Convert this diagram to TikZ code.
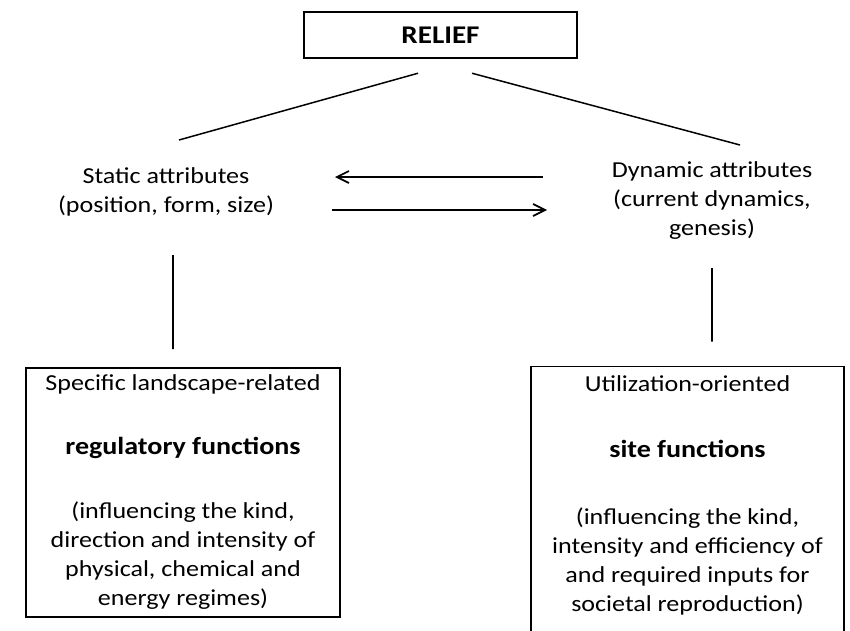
\documentclass[tikz,border=0pt]{standalone}
\usepackage{fontspec}
\setmainfont{Carlito}[FakeStretch=1.14]
\usepackage{tikz}
\usetikzlibrary{arrows.meta,positioning,calc}
\tikzset{
  topbox/.style={rectangle,draw=black,line width=1.4pt,minimum width=5.46cm,
                 minimum height=0.92cm,font=\fontsize{14.5}{17}\selectfont\bfseries},
  attr/.style={align=center,inner sep=2pt,font=\fontsize{13}{16.5}\selectfont},
  fbox/.style={rectangle,draw=black,line width=1.1pt,align=center,inner sep=3pt,
               font=\fontsize{13}{16.5}\selectfont,minimum height=4.98cm},
  ln/.style={draw=black,line width=0.85pt},
  arr/.style={draw=black,line width=1pt,-{Straight Barb[length=2.4mm,width=2.4mm,line width=1pt]}},
}
\newcommand{\bigbold}[1]{{\fontsize{14}{16.5}\selectfont\bfseries #1}}
\begin{document}
\begin{tikzpicture}[x=1cm,y=1cm]
  \useasboundingbox (0,0) rectangle (17,12.6);
  % ── top box and the two attribute groups ──
  \node[topbox] (relief) at (8.81,11.9) {RELIEF};
  \node[attr] (static)  at (3.32,8.76)  {Static attributes\\(position, form, size)};
  \node[attr] (dynamic) at (14.24,8.58) {Dynamic attributes\\(current dynamics,\\genesis)};
  % ── function boxes ──
  \node[fbox,minimum width=6.28cm] (regbox) at (3.66,2.75)
    {Specific landscape-related\\[0.7cm]\bigbold{regulatory functions}\\[0.7cm]%
     (influencing the kind,\\direction and intensity of\\physical, chemical and\\energy regimes)};
  \node[fbox,draw=none,minimum width=6.22cm] (sitebox) at (13.75,2.7)
    {Utilization-oriented\\[0.75cm]\bigbold{site functions}\\[0.75cm]%
     (influencing the kind,\\intensity and efficiency of\\and required inputs for\\societal reproduction)};
  % right box runs off the bottom edge
  \draw[line width=1.1pt] ([yshift=-0.6cm]sitebox.south west) -- ([yshift=0.05cm]sitebox.north west)
        -- ([yshift=0.05cm]sitebox.north east) -- ([yshift=-0.6cm]sitebox.south east);
  % ── connectors ──
  \draw[ln] ($(relief.south)+(-0.45,-0.28)$) -- ($(static)+(0.26,1.04)$);
  \draw[ln] ($(relief.south)+(0.63,-0.28)$)  -- ($(dynamic)+(0.56,1.12)$);
  \draw[arr] ($(dynamic)+(-3.38,0.48)$) -- ($(static)+(3.38,0.3)$);
  \draw[arr] ($(static)+(3.32,-0.36)$)  -- ($(dynamic)+(-3.3,-0.18)$);
  \draw[ln,line width=1pt] ($(static)+(0.14,-1.26)$) -- ($(regbox.north)+(-0.2,0.36)$);
  \draw[ln,line width=1pt] ($(dynamic)+(0,-1.34)$)   -- ($(sitebox.north)+(0.49,0.55)$);
\end{tikzpicture}
\end{document}
